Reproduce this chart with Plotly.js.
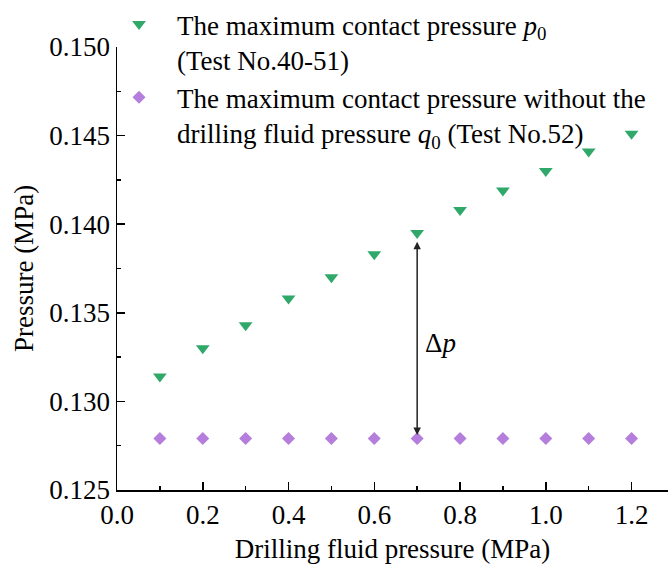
<!DOCTYPE html>
<html>
<head>
<meta charset="utf-8">
<script src="https://cdn.plot.ly/plotly-3.0.1.min.js"></script>
<style>html,body{margin:0;padding:0;background:#fff;}#chart{width:668px;height:567px;}</style>
</head>
<body>
<div id="chart"></div>
<script>
const drillingPressure = [0.1, 0.2, 0.3, 0.4, 0.5, 0.6, 0.7, 0.8, 0.9, 1.0, 1.1, 1.2];
const maxContactP0 = [0.1314, 0.1330, 0.1343, 0.1358, 0.1370, 0.1383, 0.1395, 0.1408, 0.1419, 0.1430, 0.1441, 0.1451];
const maxContactQ0 = [0.1279, 0.1279, 0.1279, 0.1279, 0.1279, 0.1279, 0.1279, 0.1279, 0.1279, 0.1279, 0.1279, 0.1279];
const xTicks = [0.0, 0.2, 0.4, 0.6, 0.8, 1.0, 1.2];
const xTickLabels = ['0.0', '0.2', '0.4', '0.6', '0.8', '1.0', '1.2'];
const yTicks = [0.125, 0.130, 0.135, 0.140, 0.145, 0.150];
const yTickLabels = ['0.125', '0.130', '0.135', '0.140', '0.145', '0.150'];
const arrowX = 0.7;
const arrowIdx = drillingPressure.indexOf(arrowX);

const FAMILY = 'Liberation Serif, DejaVu Serif, Times New Roman, serif';
const SIZE = 27;
function mkFont() { return {family: FAMILY, size: SIZE, color: '#000'}; }

const traces = [
  {
    x: drillingPressure, y: maxContactP0, mode: 'markers', type: 'scatter',
    name: 'The maximum contact pressure <i>p</i><sub>0</sub><br>(Test No.40-51)',
    marker: {symbol: 'triangle-down', size: 12, color: '#2fa86a'}
  },
  {
    x: drillingPressure, y: maxContactQ0, mode: 'markers', type: 'scatter',
    name: 'The maximum contact pressure without the<br>drilling fluid pressure <i>q</i><sub>0</sub> (Test No.52)',
    marker: {symbol: 'diamond', size: 10, color: '#b57edc'}
  }
];

const axisCommon = {
  showline: true, linecolor: '#000', linewidth: 1.5, mirror: false,
  ticks: 'inside', ticklen: 8, tickwidth: 1.5, tickcolor: '#000',
  showgrid: false, zeroline: false, tickfont: mkFont(),
};

const layout = {
  width: 668, height: 567,
  margin: {l: 117, r: 0, t: 43, b: 77},
  paper_bgcolor: '#fff', plot_bgcolor: '#fff',
  font: mkFont(),
  showlegend: true,
  legend: {x: -0.029, y: 1.106, xanchor: 'left', yanchor: 'top', bgcolor: 'rgba(0,0,0,0)',
           font: mkFont(), valign: 'top', itemwidth: 66, tracegroupgap: 0},
  xaxis: Object.assign({}, axisCommon, {
    range: [0, 1.285], tickvals: xTicks, ticktext: xTickLabels,
    minor: {dtick: 0.1, ticks: 'inside', ticklen: 4, tickwidth: 1.5, tickcolor: '#000'},
    title: {text: 'Drilling fluid pressure (MPa)', font: mkFont(), standoff: 10}
  }),
  yaxis: Object.assign({}, axisCommon, {
    range: [0.125, 0.150], tickvals: yTicks, ticktext: yTickLabels,
    minor: {dtick: 0.0025, ticks: 'inside', ticklen: 4, tickwidth: 1.5, tickcolor: '#000'},
    title: {text: 'Pressure (MPa)', font: mkFont(), standoff: 8}
  }),
  annotations: [
    {
      x: arrowX, y: maxContactQ0[arrowIdx] + 0.0002, ax: arrowX, ay: maxContactP0[arrowIdx] - 0.0004,
      xref: 'x', yref: 'y', axref: 'x', ayref: 'y',
      showarrow: true, arrowside: 'end+start', arrowhead: 2, arrowsize: 1, arrowwidth: 1.5,
      arrowcolor: '#222', text: ''
    },
    {
      x: 0.755, y: 0.1333, xref: 'x', yref: 'y', showarrow: false,
      text: '\u0394<i>p</i>', font: mkFont()
    }
  ]
};

Plotly.newPlot('chart', traces, layout, {displayModeBar: false, staticPlot: true});
</script>
</body>
</html>
